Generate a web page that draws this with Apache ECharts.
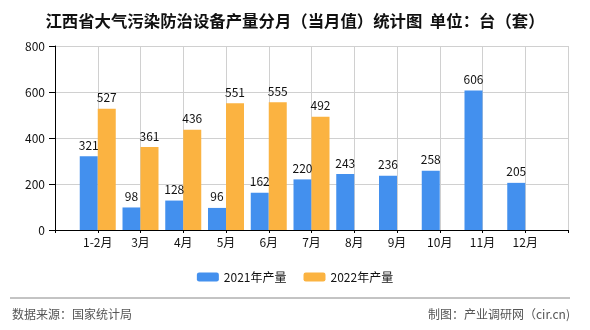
<!DOCTYPE html>
<html><head><meta charset="utf-8">
<script src="https://cdn.jsdelivr.net/npm/echarts@6/dist/echarts.min.js"></script>
<style>html,body{margin:0;padding:0;background:#fff}#c{width:590px;height:330px}</style>
</head><body><div id="c"></div>
<script>
var months = ['1-2月','3月','4月','5月','6月','7月','8月','9月','10月','11月','12月'];
var v2021 = [321, 98, 128, 96, 162, 220, 243, 236, 258, 606, 205];
var v2022 = [527, 361, 436, 551, 555, 492];
var yTicks = [0, 200, 400, 600, 800];
var seriesNames = ['2021年产量', '2022年产量'];

var cats = [''].concat(months).concat(['']);
function pad(arr){
  var out = ['-'];
  for (var i = 0; i < months.length; i++) out.push(i < arr.length ? arr[i] : '-');
  out.push('-');
  return out;
}
var font = "'Noto Sans CJK SC', sans-serif";
var chart = echarts.init(document.getElementById('c'));
chart.setOption({
  animation: false,
  title: {
    text: '江西省大气污染防治设备产量分月（当月值）统计图  单位：台（套）',
    left: 'center', top: 8,
    textStyle: {fontSize: 16.4, fontWeight: 'bold', color: '#111', fontFamily: font}
  },
  legend: {
    data: seriesNames, left: 'center', top: 266,
    itemWidth: 22, itemHeight: 9, itemGap: 17,
    textStyle: {fontSize: 12, color: '#111', fontFamily: font}
  },
  grid: {left: 55, right: 22, top: 46, bottom: 100},
  xAxis: {
    type: 'category', data: cats, boundaryGap: false,
    axisLine: {lineStyle: {color: '#000'}},
    axisTick: {show: true, length: 3, interval: 0, lineStyle: {color: '#000'}},
    axisLabel: {interval: 0, margin: 6, fontSize: 12, color: '#111', fontFamily: font},
    splitLine: {show: true, interval: 0, lineStyle: {color: '#d0d0d0'}}
  },
  yAxis: {
    type: 'value', min: yTicks[0], max: yTicks[yTicks.length-1], interval: 200,
    axisLine: {show: true, lineStyle: {color: '#000'}},
    axisTick: {show: true, length: 6, lineStyle: {color: '#000'}},
    axisLabel: {margin: 10, fontSize: 12, color: '#111', fontFamily: font},
    splitLine: {lineStyle: {color: '#d0d0d0'}}
  },
  series: [
    {name: seriesNames[0], type: 'bar', data: pad(v2021), barWidth: 18, barGap: '0%',
     itemStyle: {color: '#4390ee'},
     label: {show: true, position: 'top', distance: 5, fontSize: 12, color: '#111', fontFamily: font}},
    {name: seriesNames[1], type: 'bar', data: pad(v2022), barWidth: 18, barGap: '0%',
     itemStyle: {color: '#fbb341'},
     label: {show: true, position: 'top', distance: 5, fontSize: 12, color: '#111', fontFamily: font}}
  ],
  graphic: [
    {type: 'line', shape: {x1: 10, y1: 298, x2: 570, y2: 298}, style: {stroke: '#888', lineWidth: 1}},
    {type: 'text', left: 12, top: 308, style: {text: '数据来源：国家统计局', fontSize: 12, fill: '#555', fontFamily: font}},
    {type: 'text', right: 20, top: 308, style: {text: '制图：产业调研网（cir.cn)', fontSize: 12, fill: '#555', fontFamily: font}}
  ]
});
</script></body></html>
